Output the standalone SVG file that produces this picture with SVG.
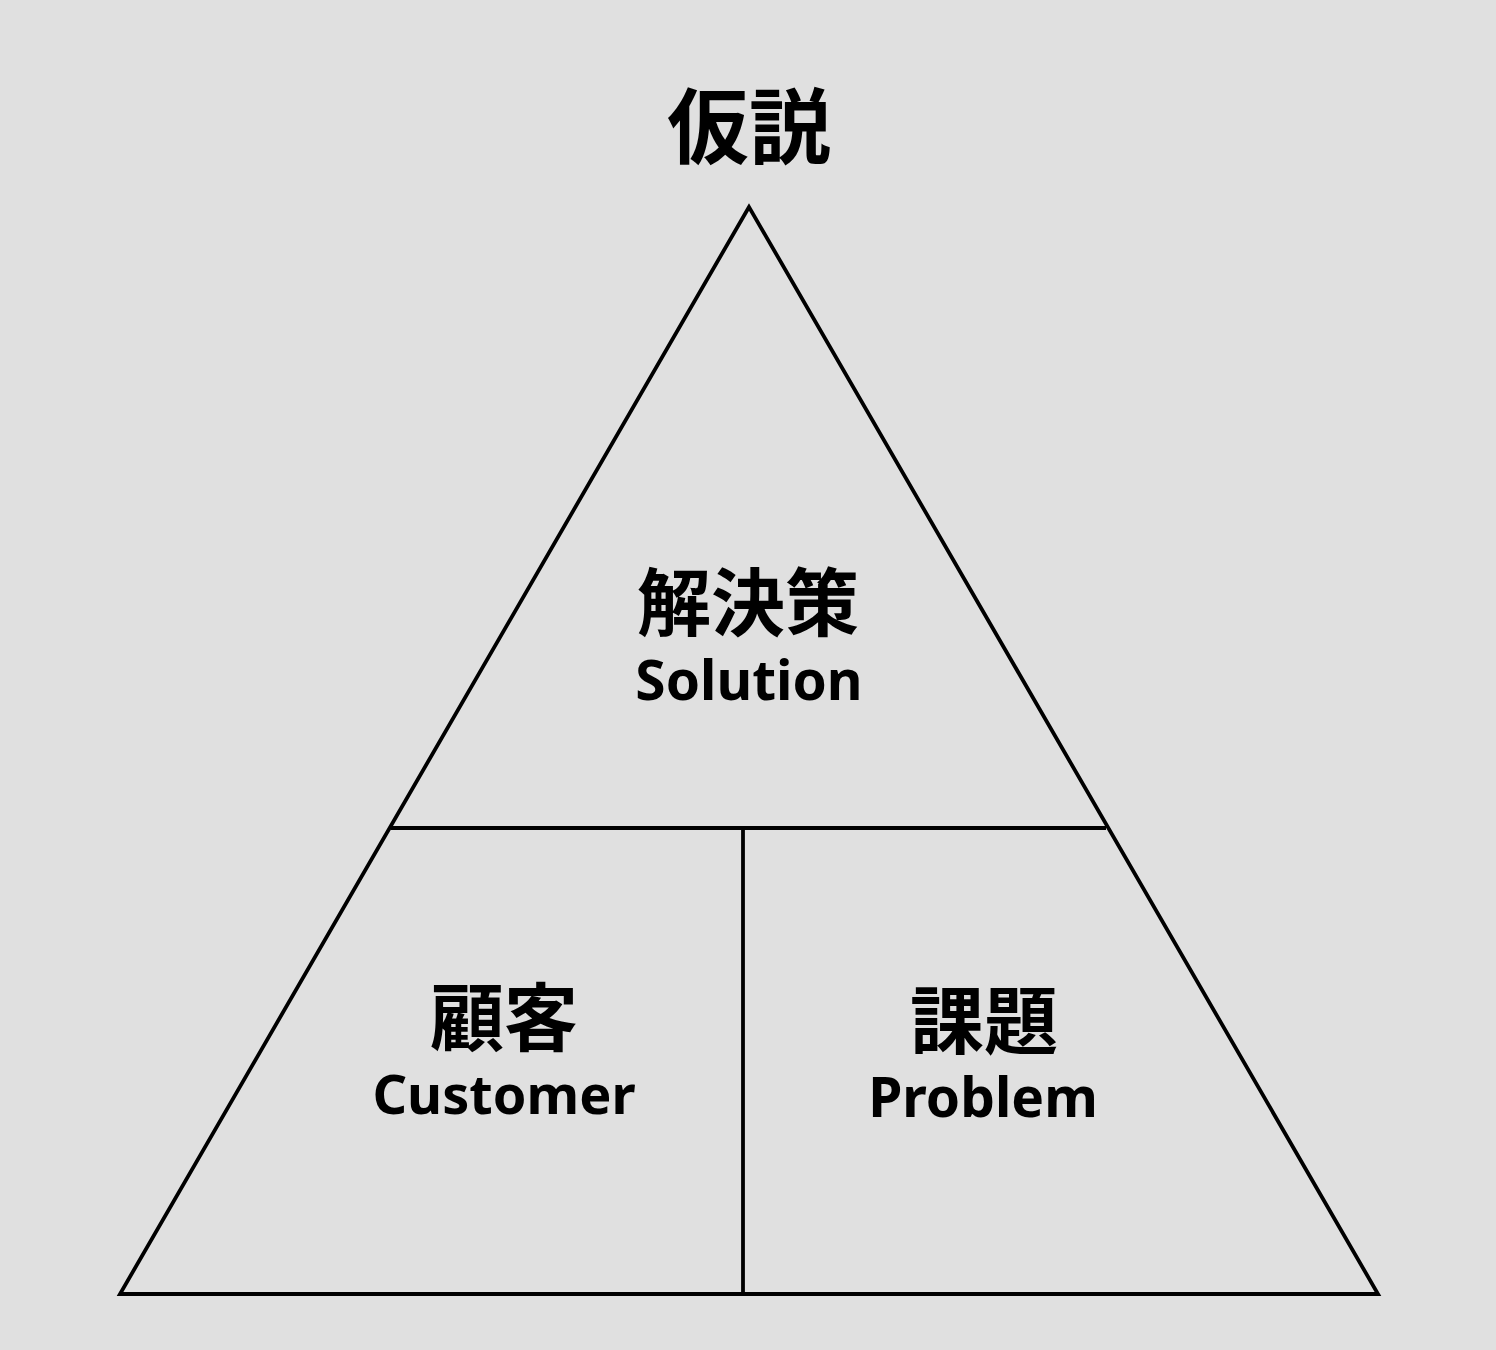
<svg xmlns="http://www.w3.org/2000/svg" width="1496" height="1350" viewBox="0 0 1496 1350">
<style>
.ln{stroke:#000;stroke-width:3.8;fill:none;stroke-linejoin:miter}
.jp{font-family:"Noto Sans CJK JP",sans-serif;font-weight:700;fill:#000;text-anchor:middle}
.en{font-family:"Noto Sans","Noto Sans CJK JP",sans-serif;font-weight:700;fill:#000;text-anchor:middle}
</style>
<rect width="1496" height="1350" fill="#e0e0e0"/>
<g id="connectors">
<polygon class="ln" points="749,207 120,1294 1378,1294"/>
<line class="ln" x1="391" y1="828" x2="1106" y2="828"/>
<line class="ln" x1="743" y1="828" x2="743" y2="1294"/>
</g>
<g id="title"><text class="jp" x="749" y="157" font-size="82">仮説</text></g>
<g id="solution"><text class="jp" x="748" y="630" font-size="74">解決策</text><text class="en" x="749" y="700" font-size="55">Solution</text></g>
<g id="customer"><text class="jp" x="504" y="1045" font-size="74">顧客</text><text class="en" x="504" y="1114" font-size="54">Customer</text></g>
<g id="problem"><text class="jp" x="984" y="1048" font-size="74">課題</text><text class="en" x="983" y="1117" font-size="55">Problem</text></g>
</svg>
